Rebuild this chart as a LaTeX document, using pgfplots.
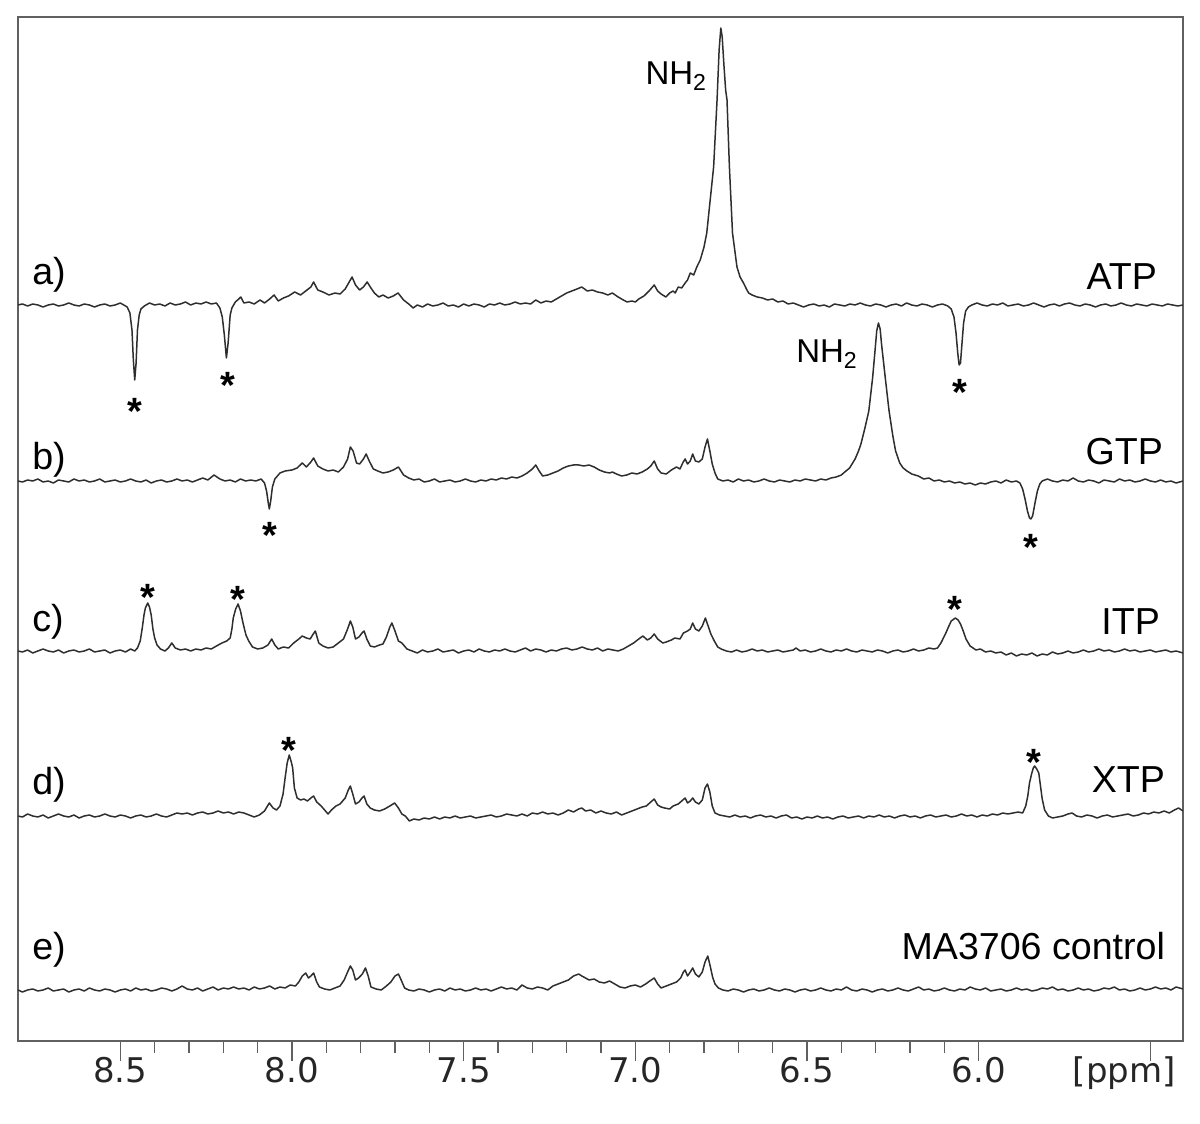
\documentclass[border=0pt]{standalone}
\usepackage{pgfplots}
\pgfplotsset{compat=1.18}
\usepackage{fontspec}
\setmainfont{Liberation Sans}
\newfontfamily\tickfont{DejaVu Sans}
\definecolor{trace}{HTML}{2E2E2E}
\definecolor{frame}{HTML}{606060}
\newcommand\lbl{\fontsize{18.8}{22}\selectfont}
\begin{document}
\begin{tikzpicture}[
  lab/.style={inner sep=0pt, font=\lbl},
  star/.style={inner sep=0pt, font=\bfseries\fontsize{19}{23}\selectfont, yshift=-4.1pt},
]
\useasboundingbox (-9pt,-41.5pt) rectangle (591pt,520.5pt);
\begin{axis}[
  scale only axis, width=582.5pt, height=512pt,
  x dir=reverse, xmin=5.405, xmax=8.798,
  ymin=0, ymax=1024,
  axis line style={frame, line width=0.9pt},
  xtick={6.0,6.5,7.0,7.5,8.0,8.5},
  xticklabels={6.0,6.5,7.0,7.5,8.0,8.5},
  extra x ticks={5.5},
  extra x tick labels={{[ppm]}},
  extra x tick style={xticklabel style={xshift=-13pt}},
  minor x tick num=4,
  xtick pos=left, ytick=\empty,
  tick align=outside,
  major tick length=10pt, minor tick length=6pt,
  tick style={frame, line width=0.6pt},
  xticklabel style={font=\tickfont\fontsize{17}{20}\selectfont, text=black!85, text height=0.73em, text depth=0.2em},
  every axis plot/.append style={trace, line width=0.75pt, line join=round, mark=none},
]
% a) ATP, baseline 736
\addplot[y filter/.expression={y+736}] coordinates {
(8.798,0)(8.785,1)(8.77,-1)(8.755,1)(8.74,0)(8.725,-2)(8.71,0)(8.695,1)(8.68,-1)(8.665,0)(8.65,2)(8.635,0)(8.62,-1)(8.605,1)(8.59,0)(8.575,-2)(8.56,0)(8.545,1)(8.53,-1)(8.515,0)(8.50,2)(8.49,0)(8.48,-2)(8.472,-8)(8.466,-25)(8.462,-55)(8.458,-75)(8.454,-58)(8.45,-25)(8.445,-10)(8.44,-4)(8.43,-1)(8.415,2)(8.40,0)(8.385,1)(8.37,-1)(8.355,2)(8.34,0)(8.325,1)(8.31,3)(8.295,0)(8.28,2)(8.265,1)(8.25,3)(8.235,1)(8.22,2)(8.21,-3)(8.203,-12)(8.197,-30)(8.191,-53)(8.186,-38)(8.18,-10)(8.175,-3)(8.165,3)(8.155,6)(8.149,8)(8.14,2)(8.125,3)(8.11,1)(8.093,5)(8.08,2)(8.065,6)(8.052,10)(8.04,4)(8.025,7)(8.01,9)(7.992,13)(7.975,10)(7.96,14)(7.945,18)(7.937,23)(7.925,15)(7.91,13)(7.892,10)(7.875,12)(7.86,11)(7.845,16)(7.835,22)(7.825,28)(7.815,20)(7.803,15)(7.792,18)(7.781,23)(7.77,17)(7.76,12)(7.747,8)(7.735,10)(7.72,7)(7.705,9)(7.691,12)(7.675,5)(7.66,1)(7.647,-3)(7.635,0)(7.62,-2)(7.605,1)(7.59,-1)(7.575,0)(7.56,2)(7.545,-1)(7.53,0)(7.515,-2)(7.50,1)(7.485,-1)(7.47,1)(7.455,0)(7.44,-2)(7.425,1)(7.41,0)(7.395,2)(7.38,0)(7.365,1)(7.35,3)(7.335,1)(7.32,2)(7.305,1)(7.29,5)(7.275,2)(7.26,4)(7.245,3)(7.23,6)(7.215,9)(7.20,12)(7.185,14)(7.17,16)(7.156,18)(7.14,14)(7.125,15)(7.11,13)(7.095,12)(7.08,10)(7.067,12)(7.05,8)(7.035,5)(7.024,3)(7.01,4)(7.00,3)(6.99,6)(6.975,9)(6.96,14)(6.945,20)(6.935,14)(6.925,11)(6.911,8)(6.90,12)(6.89,14)(6.884,12)(6.875,18)(6.865,17)(6.855,22)(6.848,25)(6.84,32)(6.83,30)(6.821,38)(6.811,45)(6.80,58)(6.792,72)(6.782,105)(6.772,138)(6.762,205)(6.756,255)(6.751,277)(6.747,268)(6.742,240)(6.737,215)(6.733,205)(6.726,138)(6.717,72)(6.704,38)(6.695,28)(6.685,22)(6.675,15)(6.67,12)(6.66,10)(6.645,8)(6.63,7)(6.615,5)(6.60,6)(6.585,3)(6.57,4)(6.555,1)(6.54,2)(6.525,0)(6.51,-2)(6.495,0)(6.48,1)(6.465,-1)(6.45,0)(6.435,-2)(6.42,1)(6.405,0)(6.39,-1)(6.375,1)(6.36,0)(6.345,2)(6.33,0)(6.315,-1)(6.30,1)(6.285,0)(6.27,-2)(6.255,0)(6.24,1)(6.225,-1)(6.21,2)(6.195,0)(6.18,-1)(6.165,1)(6.15,0)(6.135,-2)(6.12,0)(6.105,1)(6.09,-1)(6.08,-4)(6.072,-12)(6.066,-28)(6.061,-48)(6.057,-60)(6.053,-58)(6.049,-40)(6.044,-18)(6.038,-6)(6.03,-2)(6.02,0)(6.005,2)(5.99,0)(5.975,-1)(5.96,1)(5.945,0)(5.93,2)(5.915,-1)(5.90,0)(5.885,1)(5.87,-1)(5.855,0)(5.84,2)(5.825,0)(5.81,-2)(5.795,0)(5.78,1)(5.765,-1)(5.75,1)(5.735,2)(5.72,0)(5.705,-1)(5.69,1)(5.675,0)(5.66,-2)(5.645,0)(5.63,1)(5.615,-1)(5.60,0)(5.585,2)(5.57,0)(5.555,-1)(5.54,1)(5.525,0)(5.51,-1)(5.495,1)(5.48,0)(5.465,-1)(5.45,1)(5.435,0)(5.42,-1)(5.405,0)
};
% b) GTP, baseline 560
\addplot[y filter/.expression={y+560}] coordinates {
(8.798,0)(8.785,-1)(8.77,1)(8.755,0)(8.74,2)(8.725,-1)(8.71,0)(8.695,-2)(8.68,1)(8.665,0)(8.65,-1)(8.635,2)(8.62,0)(8.605,1)(8.59,-1)(8.575,0)(8.56,2)(8.545,-1)(8.53,0)(8.515,1)(8.50,-1)(8.485,0)(8.47,2)(8.455,0)(8.44,-1)(8.425,1)(8.41,-2)(8.395,0)(8.38,1)(8.365,-1)(8.35,0)(8.335,2)(8.32,0)(8.305,1)(8.29,-1)(8.275,1)(8.26,3)(8.245,1)(8.227,6)(8.21,2)(8.195,0)(8.18,1)(8.165,-1)(8.15,2)(8.135,0)(8.12,1)(8.105,0)(8.09,2)(8.08,-2)(8.074,-10)(8.069,-22)(8.066,-28)(8.062,-20)(8.057,-6)(8.05,2)(8.035,8)(8.02,10)(8.00,11)(7.985,13)(7.97,18)(7.958,14)(7.945,19)(7.937,23)(7.925,15)(7.91,12)(7.895,10)(7.88,11)(7.865,9)(7.85,14)(7.838,22)(7.83,34)(7.822,30)(7.812,18)(7.803,17)(7.792,22)(7.784,27)(7.775,20)(7.763,12)(7.75,10)(7.735,8)(7.72,9)(7.705,11)(7.69,14)(7.675,6)(7.66,3)(7.645,1)(7.63,2)(7.615,-1)(7.60,0)(7.585,2)(7.57,-1)(7.555,0)(7.54,1)(7.525,-1)(7.51,0)(7.495,2)(7.48,0)(7.465,-1)(7.45,1)(7.435,0)(7.42,2)(7.405,1)(7.39,3)(7.375,2)(7.36,4)(7.345,3)(7.33,5)(7.315,8)(7.30,12)(7.29,16)(7.28,10)(7.27,5)(7.255,6)(7.24,8)(7.225,10)(7.21,13)(7.195,15)(7.18,16)(7.165,16)(7.15,15)(7.135,16)(7.12,14)(7.105,11)(7.09,9)(7.075,8)(7.067,9)(7.055,7)(7.04,5)(7.025,6)(7.01,8)(6.995,7)(6.98,9)(6.965,12)(6.955,15)(6.945,20)(6.935,12)(6.925,8)(6.91,7)(6.895,11)(6.88,14)(6.87,12)(6.862,18)(6.855,22)(6.848,17)(6.84,20)(6.833,27)(6.825,20)(6.815,19)(6.805,22)(6.797,34)(6.79,42)(6.783,30)(6.776,17)(6.768,8)(6.76,2)(6.745,0)(6.73,1)(6.715,-1)(6.70,2)(6.685,0)(6.67,1)(6.655,-1)(6.64,0)(6.625,2)(6.61,0)(6.595,-1)(6.58,1)(6.565,0)(6.55,-1)(6.535,1)(6.52,0)(6.505,2)(6.49,1)(6.475,0)(6.46,2)(6.445,1)(6.43,3)(6.415,4)(6.40,6)(6.39,9)(6.376,13)(6.36,22)(6.35,30)(6.343,37)(6.332,52)(6.32,70)(6.309,103)(6.302,130)(6.297,150)(6.292,158)(6.287,152)(6.283,137)(6.272,103)(6.261,70)(6.25,45)(6.242,30)(6.23,18)(6.22,13)(6.209,10)(6.195,7)(6.176,5)(6.16,2)(6.145,3)(6.13,0)(6.115,1)(6.10,-1)(6.085,0)(6.07,-2)(6.055,-1)(6.04,-3)(6.025,-2)(6.01,-4)(5.995,-2)(5.98,-3)(5.965,-1)(5.95,0)(5.935,-2)(5.92,1)(5.905,-1)(5.89,0)(5.88,-2)(5.872,-8)(5.865,-18)(5.858,-30)(5.852,-37)(5.848,-38)(5.843,-35)(5.836,-22)(5.829,-10)(5.822,-3)(5.815,0)(5.80,2)(5.785,0)(5.77,-1)(5.755,1)(5.74,0)(5.725,3)(5.71,0)(5.695,-1)(5.68,1)(5.665,0)(5.65,-2)(5.635,1)(5.62,0)(5.605,-1)(5.59,2)(5.575,0)(5.56,1)(5.545,-1)(5.53,0)(5.515,2)(5.50,0)(5.485,-1)(5.47,1)(5.455,-1)(5.44,0)(5.425,-2)(5.405,0)
};
% c) ITP, baseline 390
\addplot[y filter/.expression={y+390}] coordinates {
(8.798,0)(8.785,-1)(8.77,1)(8.755,-2)(8.74,0)(8.725,2)(8.71,0)(8.695,-1)(8.68,1)(8.665,-2)(8.65,0)(8.635,1)(8.62,-1)(8.605,0)(8.59,2)(8.575,-1)(8.56,0)(8.545,1)(8.53,-2)(8.515,0)(8.50,1)(8.485,-1)(8.47,2)(8.458,0)(8.45,3)(8.442,10)(8.436,23)(8.431,36)(8.427,43)(8.42,48)(8.415,44)(8.41,36)(8.405,22)(8.40,13)(8.393,6)(8.383,2)(8.37,0)(8.36,3)(8.35,8)(8.34,3)(8.325,1)(8.31,2)(8.295,0)(8.28,2)(8.265,1)(8.25,3)(8.235,2)(8.22,5)(8.204,8)(8.19,10)(8.18,13)(8.175,22)(8.171,33)(8.164,42)(8.157,47)(8.15,40)(8.142,27)(8.134,16)(8.126,10)(8.115,4)(8.10,2)(8.085,3)(8.07,6)(8.059,12)(8.05,6)(8.04,2)(8.025,4)(8.01,3)(7.995,8)(7.98,12)(7.97,15)(7.958,13)(7.947,12)(7.94,16)(7.932,20)(7.922,8)(7.91,5)(7.895,3)(7.88,4)(7.865,8)(7.85,12)(7.838,22)(7.83,30)(7.823,24)(7.815,12)(7.805,14)(7.796,18)(7.79,20)(7.782,12)(7.772,5)(7.76,4)(7.745,6)(7.735,7)(7.725,14)(7.715,24)(7.709,28)(7.70,20)(7.69,10)(7.68,8)(7.665,2)(7.65,0)(7.635,-2)(7.62,1)(7.605,-1)(7.59,0)(7.575,2)(7.56,-1)(7.545,0)(7.53,1)(7.515,-2)(7.50,0)(7.485,1)(7.47,-1)(7.455,2)(7.44,0)(7.425,-1)(7.41,1)(7.395,0)(7.38,2)(7.365,0)(7.35,-1)(7.335,1)(7.32,3)(7.305,0)(7.29,2)(7.275,1)(7.26,-1)(7.245,1)(7.23,0)(7.215,2)(7.20,3)(7.185,1)(7.17,2)(7.155,4)(7.14,2)(7.125,1)(7.11,3)(7.095,0)(7.08,2)(7.065,1)(7.05,0)(7.035,2)(7.02,5)(7.005,8)(6.99,12)(6.978,15)(6.965,11)(6.955,13)(6.945,17)(6.935,12)(6.92,8)(6.91,9)(6.895,11)(6.885,13)(6.87,12)(6.86,18)(6.848,20)(6.84,22)(6.833,28)(6.825,22)(6.815,20)(6.805,25)(6.796,33)(6.788,25)(6.78,17)(6.77,10)(6.76,4)(6.75,2)(6.735,0)(6.72,-1)(6.705,1)(6.69,-1)(6.675,0)(6.66,2)(6.645,0)(6.63,1)(6.615,-1)(6.60,0)(6.585,1)(6.57,-1)(6.555,0)(6.54,1)(6.532,3)(6.52,0)(6.505,1)(6.49,-1)(6.475,0)(6.46,2)(6.445,0)(6.43,-1)(6.415,1)(6.40,0)(6.385,2)(6.37,0)(6.355,-1)(6.34,1)(6.325,0)(6.31,-1)(6.295,1)(6.28,0)(6.265,-2)(6.25,0)(6.235,1)(6.22,-1)(6.205,0)(6.19,2)(6.175,0)(6.16,1)(6.145,3)(6.13,2)(6.12,3)(6.11,8)(6.097,17)(6.088,24)(6.08,30)(6.068,33)(6.06,31)(6.053,27)(6.045,20)(6.037,12)(6.025,5)(6.008,1)(5.995,2)(5.98,-1)(5.965,0)(5.95,-2)(5.935,-1)(5.92,-4)(5.905,-2)(5.89,-5)(5.875,-3)(5.86,-4)(5.845,-2)(5.83,-5)(5.815,-3)(5.80,-4)(5.785,-1)(5.77,-3)(5.755,-2)(5.74,0)(5.725,-2)(5.71,-1)(5.695,1)(5.68,-1)(5.665,0)(5.65,2)(5.635,0)(5.62,1)(5.605,-1)(5.59,0)(5.575,2)(5.56,0)(5.545,1)(5.53,-1)(5.515,0)(5.50,1)(5.485,-1)(5.47,0)(5.455,1)(5.44,-1)(5.425,0)(5.405,-2)
};
% d) XTP, baseline 225
\addplot[y filter/.expression={y+225}] coordinates {
(8.798,0)(8.785,-1)(8.77,2)(8.755,0)(8.74,-1)(8.725,1)(8.71,-2)(8.695,0)(8.68,2)(8.665,0)(8.65,-1)(8.635,1)(8.62,-2)(8.605,0)(8.59,1)(8.575,-1)(8.56,0)(8.545,2)(8.53,0)(8.515,-1)(8.50,1)(8.485,0)(8.47,-2)(8.455,0)(8.44,1)(8.425,-1)(8.41,0)(8.395,2)(8.38,0)(8.365,-1)(8.35,1)(8.335,3)(8.32,2)(8.305,3)(8.29,1)(8.275,3)(8.26,4)(8.245,2)(8.23,3)(8.215,5)(8.20,3)(8.185,4)(8.17,2)(8.155,4)(8.14,3)(8.125,1)(8.11,-1)(8.095,1)(8.08,5)(8.066,13)(8.055,8)(8.045,6)(8.035,10)(8.026,22)(8.02,38)(8.014,53)(8.008,61)(8.002,54)(7.998,48)(7.993,28)(7.985,18)(7.975,16)(7.965,17)(7.955,15)(7.945,18)(7.937,20)(7.928,14)(7.915,10)(7.905,6)(7.895,2)(7.885,6)(7.872,10)(7.86,12)(7.845,18)(7.836,26)(7.83,30)(7.823,22)(7.815,12)(7.805,14)(7.796,18)(7.79,20)(7.782,12)(7.772,8)(7.76,6)(7.745,5)(7.73,7)(7.715,10)(7.701,13)(7.69,8)(7.68,2)(7.67,0)(7.658,-5)(7.645,-3)(7.63,-4)(7.615,-2)(7.60,-3)(7.585,-1)(7.57,-3)(7.555,-1)(7.54,-2)(7.525,0)(7.51,-2)(7.495,-1)(7.48,0)(7.465,-2)(7.45,-1)(7.435,0)(7.42,1)(7.405,-1)(7.39,0)(7.375,2)(7.36,1)(7.345,0)(7.33,2)(7.315,0)(7.30,3)(7.285,2)(7.27,4)(7.255,2)(7.24,3)(7.225,1)(7.21,3)(7.195,6)(7.18,4)(7.165,7)(7.156,8)(7.145,5)(7.13,6)(7.115,3)(7.10,5)(7.085,3)(7.07,2)(7.055,4)(7.04,1)(7.025,3)(7.01,5)(6.995,7)(6.98,9)(6.968,10)(6.955,14)(6.945,17)(6.935,11)(6.925,9)(6.915,8)(6.90,7)(6.89,10)(6.875,12)(6.865,15)(6.855,18)(6.848,13)(6.84,15)(6.833,18)(6.825,14)(6.815,12)(6.805,16)(6.797,28)(6.79,32)(6.783,24)(6.776,10)(6.768,3)(6.755,1)(6.74,0)(6.725,-1)(6.71,1)(6.695,-1)(6.68,0)(6.665,-2)(6.65,0)(6.635,1)(6.62,-1)(6.605,0)(6.59,-2)(6.575,0)(6.56,1)(6.545,-2)(6.53,-1)(6.515,-3)(6.50,-1)(6.485,-2)(6.47,0)(6.455,-2)(6.44,-1)(6.425,-3)(6.41,-1)(6.395,0)(6.38,-2)(6.365,-1)(6.35,0)(6.335,-2)(6.32,0)(6.305,-1)(6.29,1)(6.275,-1)(6.26,0)(6.245,-2)(6.23,0)(6.215,1)(6.20,-1)(6.185,0)(6.17,-2)(6.155,0)(6.14,1)(6.125,-1)(6.11,0)(6.095,1)(6.08,-1)(6.065,0)(6.05,2)(6.035,0)(6.02,1)(6.005,-1)(5.99,1)(5.975,0)(5.96,2)(5.945,1)(5.93,3)(5.915,2)(5.90,3)(5.885,4)(5.872,3)(5.863,10)(5.857,20)(5.852,33)(5.846,42)(5.841,48)(5.837,50)(5.831,47)(5.825,43)(5.82,30)(5.815,17)(5.808,6)(5.797,0)(5.785,-2)(5.77,-1)(5.755,0)(5.74,2)(5.728,3)(5.715,0)(5.70,-1)(5.685,1)(5.67,0)(5.655,-2)(5.64,0)(5.625,1)(5.61,-1)(5.595,0)(5.58,1)(5.565,2)(5.55,0)(5.535,1)(5.52,3)(5.505,2)(5.49,4)(5.475,3)(5.46,5)(5.445,3)(5.43,6)(5.418,8)(5.405,5)
};
% e) MA3706 control, baseline 51
\addplot[y filter/.expression={y+51}] coordinates {
(8.798,0)(8.785,-2)(8.77,0)(8.755,1)(8.74,-1)(8.725,0)(8.71,2)(8.695,-1)(8.68,0)(8.665,1)(8.65,-2)(8.635,0)(8.62,1)(8.605,-1)(8.59,2)(8.575,0)(8.56,-1)(8.545,1)(8.53,0)(8.515,-2)(8.50,0)(8.485,1)(8.47,-1)(8.455,2)(8.44,0)(8.425,1)(8.41,-1)(8.395,0)(8.38,2)(8.365,1)(8.35,-1)(8.335,1)(8.32,4)(8.305,1)(8.29,0)(8.275,2)(8.26,-1)(8.245,1)(8.23,3)(8.215,0)(8.20,2)(8.185,1)(8.17,3)(8.155,1)(8.14,2)(8.125,0)(8.11,3)(8.095,1)(8.08,2)(8.065,4)(8.05,1)(8.035,3)(8.02,2)(8.005,5)(7.99,4)(7.98,8)(7.97,14)(7.96,17)(7.952,12)(7.945,14)(7.937,17)(7.928,8)(7.92,3)(7.905,1)(7.89,0)(7.875,2)(7.86,4)(7.848,10)(7.838,18)(7.83,24)(7.823,20)(7.815,10)(7.806,12)(7.795,16)(7.786,22)(7.778,14)(7.77,3)(7.755,1)(7.74,0)(7.725,4)(7.712,8)(7.70,14)(7.69,16)(7.682,10)(7.672,2)(7.66,0)(7.645,-1)(7.63,1)(7.615,0)(7.60,-2)(7.585,0)(7.57,1)(7.555,-1)(7.54,2)(7.525,0)(7.51,1)(7.495,-1)(7.48,0)(7.465,2)(7.45,0)(7.435,1)(7.42,-1)(7.405,1)(7.39,3)(7.375,1)(7.36,2)(7.345,0)(7.33,5)(7.315,2)(7.30,1)(7.285,3)(7.27,2)(7.255,0)(7.24,4)(7.225,6)(7.21,8)(7.195,10)(7.18,14)(7.165,16)(7.156,14)(7.145,12)(7.135,10)(7.12,11)(7.105,8)(7.09,7)(7.075,9)(7.06,6)(7.045,3)(7.03,2)(7.015,4)(7.00,5)(6.985,3)(6.97,6)(6.958,9)(6.945,12)(6.935,6)(6.925,2)(6.91,4)(6.895,6)(6.88,8)(6.868,12)(6.86,18)(6.855,20)(6.848,14)(6.84,18)(6.833,22)(6.825,16)(6.815,13)(6.805,18)(6.797,28)(6.789,34)(6.782,24)(6.775,13)(6.768,6)(6.758,2)(6.745,0)(6.73,-1)(6.715,1)(6.70,0)(6.685,-2)(6.67,0)(6.655,1)(6.64,-1)(6.625,0)(6.61,2)(6.595,0)(6.58,-1)(6.565,1)(6.55,0)(6.535,-2)(6.52,0)(6.505,1)(6.49,-1)(6.475,0)(6.46,2)(6.445,0)(6.43,-1)(6.415,1)(6.40,0)(6.385,3)(6.37,0)(6.355,-1)(6.34,1)(6.325,0)(6.31,-2)(6.295,0)(6.28,1)(6.265,-1)(6.25,0)(6.235,2)(6.22,0)(6.205,-1)(6.19,1)(6.175,3)(6.16,0)(6.145,1)(6.13,-1)(6.115,0)(6.10,2)(6.085,0)(6.07,-1)(6.055,1)(6.04,0)(6.025,3)(6.01,1)(5.995,0)(5.98,2)(5.965,-1)(5.95,0)(5.935,1)(5.92,-1)(5.905,0)(5.89,2)(5.875,0)(5.86,1)(5.845,-1)(5.83,0)(5.815,2)(5.80,1)(5.785,3)(5.77,0)(5.755,1)(5.74,-1)(5.725,0)(5.71,2)(5.695,0)(5.68,1)(5.665,-1)(5.65,0)(5.635,2)(5.62,1)(5.605,3)(5.59,0)(5.575,1)(5.56,-1)(5.545,0)(5.53,2)(5.515,0)(5.50,1)(5.485,3)(5.47,1)(5.455,2)(5.44,0)(5.425,3)(5.405,1)
};
% left labels
\node[lab, anchor=base west] at (axis cs:8.7576,756) {a)};
\node[lab, anchor=base west] at (axis cs:8.7576,571) {b)};
\node[lab, anchor=base west] at (axis cs:8.7576,409) {c)};
\node[lab, anchor=base west] at (axis cs:8.7576,246) {d)};
\node[lab, anchor=base west] at (axis cs:8.7576,81) {e)};
% right labels
\node[lab, anchor=base east] at (axis cs:5.4796,751) {ATP};
\node[lab, anchor=base east] at (axis cs:5.4621,576) {GTP};
\node[lab, anchor=base east] at (axis cs:5.4709,406) {ITP};
\node[lab, anchor=base east] at (axis cs:5.4563,248) {XTP};
\node[lab, anchor=base east] at (axis cs:5.4563,81) {MA3706 control};
% NH2 labels
\node[inner sep=0pt, anchor=base west, font=\fontsize{16.5}{20}\selectfont] at (axis cs:6.9714,956) {NH\textsubscript{2}};
\node[inner sep=0pt, anchor=base west, font=\fontsize{16.5}{20}\selectfont] at (axis cs:6.5323,678) {NH\textsubscript{2}};
% asterisks
\node[star] at (axis cs:8.4575,638) {*};
\node[star] at (axis cs:8.1874,664) {*};
\node[star] at (axis cs:6.0536,657) {*};
\node[star] at (axis cs:8.0641,514) {*};
\node[star] at (axis cs:5.8479,502) {*};
\node[star] at (axis cs:8.4205,452) {*};
\node[star] at (axis cs:8.1573,450) {*};
\node[star] at (axis cs:6.0683,440) {*};
\node[star] at (axis cs:8.0087,299) {*};
\node[star] at (axis cs:5.8380,287) {*};
\end{axis}
\end{tikzpicture}
\end{document}
